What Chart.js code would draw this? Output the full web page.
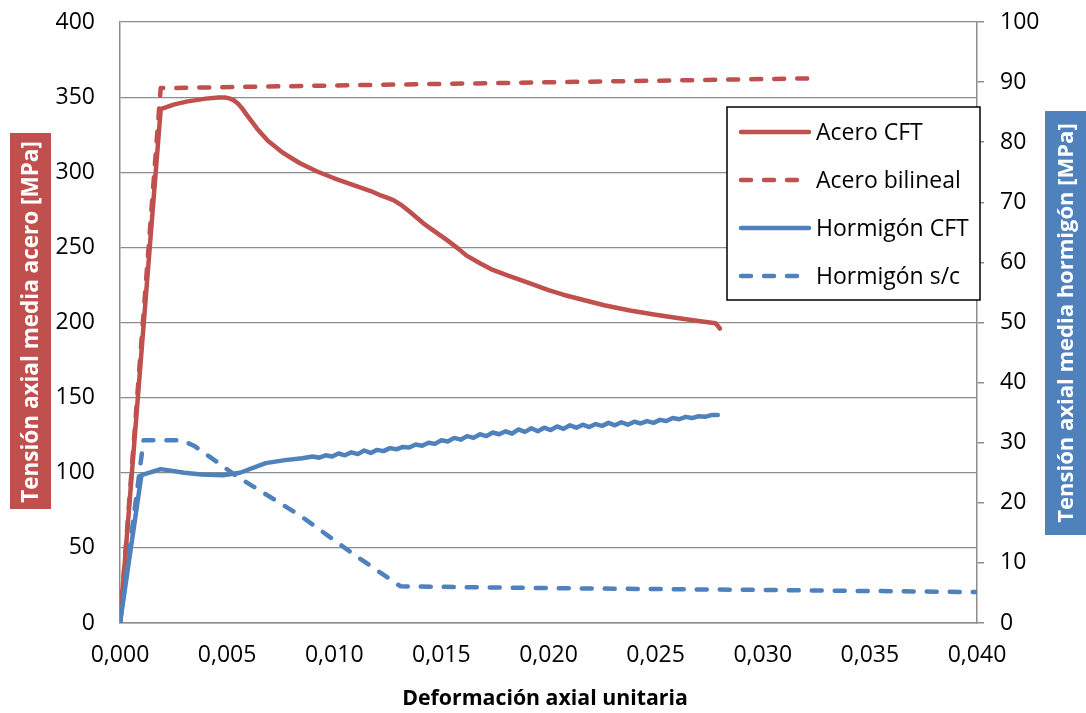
<!DOCTYPE html>
<html>
<head>
<meta charset="utf-8">
<script src="https://cdn.jsdelivr.net/npm/chart.js@4.4.1/dist/chart.umd.min.js"></script>
<style>
html,body{margin:0;padding:0;background:#fff;}
#wrap{width:1086px;height:713px;position:relative;}
</style>
</head>
<body>
<div id="wrap"><canvas id="c" width="1086" height="713"></canvas></div>
<script>
// ---------- DATA ----------
const seriesNames = ["Acero CFT", "Acero bilineal", "Hormigón CFT", "Hormigón s/c"];

const aceroCFT_x = [0, 0.0019, 0.0025, 0.0031, 0.0040, 0.0046, 0.0049, 0.0051, 0.0053, 0.0055, 0.0057, 0.0059, 0.0064, 0.0069, 0.0076, 0.0084, 0.0092, 0.0100, 0.0110, 0.0117, 0.0121, 0.0124, 0.01276, 0.0131, 0.0135, 0.01416, 0.0147, 0.01525, 0.0158, 0.01618, 0.0168, 0.0174, 0.01805, 0.01914, 0.0200, 0.02069, 0.0215, 0.0226, 0.0238, 0.0250, 0.0261, 0.0270, 0.0278, 0.0280];
const aceroCFT_y = [0, 342, 345, 347, 349, 349.8, 349.8, 349.2, 348, 345.8, 342.5, 338.5, 329, 321, 313, 306, 300.5, 296, 291, 287.5, 285, 283.5, 281.5, 278.5, 274, 266, 260.5, 255, 249, 244.5, 239.4, 235, 231.6, 226, 221.5, 218.5, 215.5, 211.5, 208, 205.2, 202.8, 201, 199.5, 196];

const aceroBil_x = [0, 0.0019, 0.0323];
const aceroBil_y = [0, 356, 362.5];

const hormCFT_x = [0, 0.0010, 0.0019, 0.0030, 0.0038, 0.0048, 0.0056, 0.0068, 0.0077, 0.0085,
  0.0090, 0.0093, 0.0096, 0.0099, 0.0102, 0.0105, 0.0108, 0.0111, 0.0114, 0.0117,
  0.0120, 0.0123, 0.0126, 0.0129, 0.0132, 0.0135, 0.0138, 0.0141, 0.0144, 0.0147,
  0.0150, 0.0153, 0.0156, 0.0159, 0.0162, 0.0165, 0.0168, 0.0171, 0.0174, 0.0177,
  0.0180, 0.0183, 0.0186, 0.0189, 0.0192, 0.0195, 0.0198, 0.0201, 0.0204, 0.0207,
  0.0210, 0.0213, 0.0216, 0.0219, 0.0222, 0.0225, 0.0228, 0.0231, 0.0234, 0.0237,
  0.0240, 0.0243, 0.0246, 0.0249, 0.0252, 0.0255, 0.0258, 0.0261, 0.0264, 0.0267,
  0.0270, 0.0273, 0.0276, 0.0279];
const hormCFT_y = [0, 24.6, 25.6, 25.0, 24.7, 24.6, 25.0, 26.6, 27.1, 27.4,
  27.7, 27.5, 27.9, 27.7, 28.2, 27.9, 28.4, 28.1, 28.7, 28.3,
  28.8, 28.6, 29.1, 28.9, 29.3, 29.2, 29.7, 29.5, 30.0, 29.8,
  30.4, 30.2, 30.8, 30.5, 31.1, 30.8, 31.4, 31.1, 31.7, 31.4,
  31.9, 31.5, 32.2, 31.8, 32.4, 31.9, 32.5, 32.1, 32.7, 32.3,
  32.9, 32.5, 33.0, 32.6, 33.1, 32.8, 33.3, 32.9, 33.4, 33.0,
  33.5, 33.2, 33.6, 33.3, 33.8, 33.6, 34.1, 33.9, 34.3, 34.1,
  34.4, 34.3, 34.6, 34.6];

const hormSC_x = [0, 0.0011, 0.0029, 0.0035, 0.0055, 0.0084, 0.0110, 0.0128, 0.0131, 0.0200, 0.0300, 0.0400];
const hormSC_y = [0, 30.4, 30.4, 29.4, 24.3, 17.9, 11.2, 6.8, 6.1, 5.8, 5.5, 5.15];

const xTickValues = [0, 0.005, 0.010, 0.015, 0.020, 0.025, 0.030, 0.035, 0.040];
const xTickLabels = ["0,000", "0,005", "0,010", "0,015", "0,020", "0,025", "0,030", "0,035", "0,040"];
const yLeftTicks = [0, 50, 100, 150, 200, 250, 300, 350, 400];
const yRightTicks = [0, 10, 20, 30, 40, 50, 60, 70, 80, 90, 100];

const xTitle = "Deformación axial unitaria";
const yLeftTitle = "Tensión axial media acero [MPa]";
const yRightTitle = "Tensión axial media hormigón [MPa]";

// ---------- STYLE ----------
const RED = "#C0504D";
const BLUE = "#4F81BD";
const GRID = "#8C8C8C";
const FONT = '"Open Sans", "Noto Sans", sans-serif';

function pts(xs, ys) { return xs.map((x, i) => ({x: x, y: ys[i]})); }

const datasets = [
  {label: seriesNames[0], data: pts(aceroCFT_x, aceroCFT_y), yAxisID: 'y', borderColor: RED, borderDash: [], order: 4},
  {label: seriesNames[1], data: pts(aceroBil_x, aceroBil_y), yAxisID: 'y', borderColor: RED, borderDash: [10, 13], order: 3},
  {label: seriesNames[2], data: pts(hormCFT_x, hormCFT_y), yAxisID: 'y2', borderColor: BLUE, borderDash: [], order: 2},
  {label: seriesNames[3], data: pts(hormSC_x, hormSC_y), yAxisID: 'y2', borderColor: BLUE, borderDash: [10, 13], order: 1}
];
datasets.forEach(d => {
  d.pointRadius = 0; d.fill = false; d.tension = 0; d.borderWidth = 4.5;
  d.borderCapStyle = 'round'; d.borderJoinStyle = 'round'; d.backgroundColor = d.borderColor;
});

function noPad(s) { s.paddingTop = 0; s.paddingBottom = 0; s.paddingLeft = 0; s.paddingRight = 0; }

const decor = {
  id: 'decor',
  afterDraw(chart) {
    const ctx = chart.ctx;
    // left title box
    ctx.save();
    ctx.fillStyle = RED;
    ctx.fillRect(10, 133, 41, 376);
    ctx.translate(30.5, 322);
    ctx.rotate(-Math.PI / 2);
    ctx.font = 'bold 22.5px ' + FONT;
    ctx.fillStyle = '#fff';
    ctx.textAlign = 'center';
    ctx.textBaseline = 'middle';
    ctx.fillText(yLeftTitle, 0, 1);
    ctx.restore();
    // right title box
    ctx.save();
    ctx.fillStyle = BLUE;
    ctx.fillRect(1045, 111, 41, 424);
    ctx.translate(1065.5, 323);
    ctx.rotate(-Math.PI / 2);
    ctx.font = 'bold 22px ' + FONT;
    ctx.fillStyle = '#fff';
    ctx.textAlign = 'center';
    ctx.textBaseline = 'middle';
    ctx.fillText(yRightTitle, 0, 1);
    ctx.restore();
    // x title
    ctx.save();
    ctx.font = 'bold 21.3px ' + FONT;
    ctx.fillStyle = '#000';
    ctx.textAlign = 'center';
    ctx.textBaseline = 'middle';
    ctx.fillText(xTitle, 545, 699);
    ctx.restore();
    // legend
    ctx.save();
    ctx.fillStyle = '#fff';
    ctx.fillRect(727, 107, 253, 193);
    ctx.strokeStyle = '#000';
    ctx.lineWidth = 1.5;
    ctx.strokeRect(727, 107, 253, 193);
    const rows = [132, 180, 228, 276];
    chart.data.datasets.forEach((ds, i) => {
      const y = rows[i];
      ctx.beginPath();
      ctx.strokeStyle = ds.borderColor;
      ctx.lineWidth = 4.5;
      ctx.lineCap = 'round';
      ctx.setLineDash(ds.borderDash && ds.borderDash.length ? [10, 13] : []);
      ctx.moveTo(741, y);
      ctx.lineTo(809, y);
      ctx.stroke();
      ctx.setLineDash([]);
      ctx.font = '23px ' + FONT;
      ctx.fillStyle = '#000';
      ctx.textAlign = 'left';
      ctx.textBaseline = 'middle';
      ctx.fillText(ds.label, 816, y + 1);
    });
    ctx.restore();
  }
};

new Chart(document.getElementById('c'), {
  type: 'line',
  data: {datasets: datasets},
  plugins: [decor],
  options: {
    responsive: false,
    animation: false,
    devicePixelRatio: 1,
    layout: {autoPadding: false, padding: {top: 22, left: 0, right: 0, bottom: 0}},
    plugins: {legend: {display: false}, tooltip: {enabled: false}, title: {display: false}},
    scales: {
      x: {
        type: 'linear', position: 'bottom', min: 0, max: 0.04,
        afterBuildTicks: (s) => { s.ticks = xTickValues.map(v => ({value: v})); },
        afterFit: (s) => { s.height = 90; noPad(s); },
        ticks: {
          callback: (v, i) => xTickLabels[i],
          font: {family: FONT, size: 23}, color: '#000', padding: 19, maxRotation: 0, autoSkip: false
        },
        grid: {display: false, drawTicks: false},
        border: {display: true, color: GRID, width: 1.5}
      },
      y: {
        type: 'linear', position: 'left', min: 0, max: 400,
        afterBuildTicks: (s) => { s.ticks = yLeftTicks.map(v => ({value: v})); },
        afterFit: (s) => { s.width = 120; noPad(s); },
        ticks: {font: {family: FONT, size: 23}, color: '#000', padding: 25},
        grid: {color: GRID, lineWidth: 1.2, drawTicks: false},
        border: {display: true, color: GRID, width: 1.5}
      },
      y2: {
        type: 'linear', position: 'right', min: 0, max: 100,
        afterBuildTicks: (s) => { s.ticks = yRightTicks.map(v => ({value: v})); },
        afterFit: (s) => { s.width = 109; noPad(s); },
        ticks: {font: {family: FONT, size: 23}, color: '#000', padding: 16},
        grid: {drawOnChartArea: false, drawTicks: true, tickLength: 7, color: GRID, lineWidth: 1.5},
        border: {display: true, color: GRID, width: 1.5}
      }
    }
  }
});
</script>
</body>
</html>
